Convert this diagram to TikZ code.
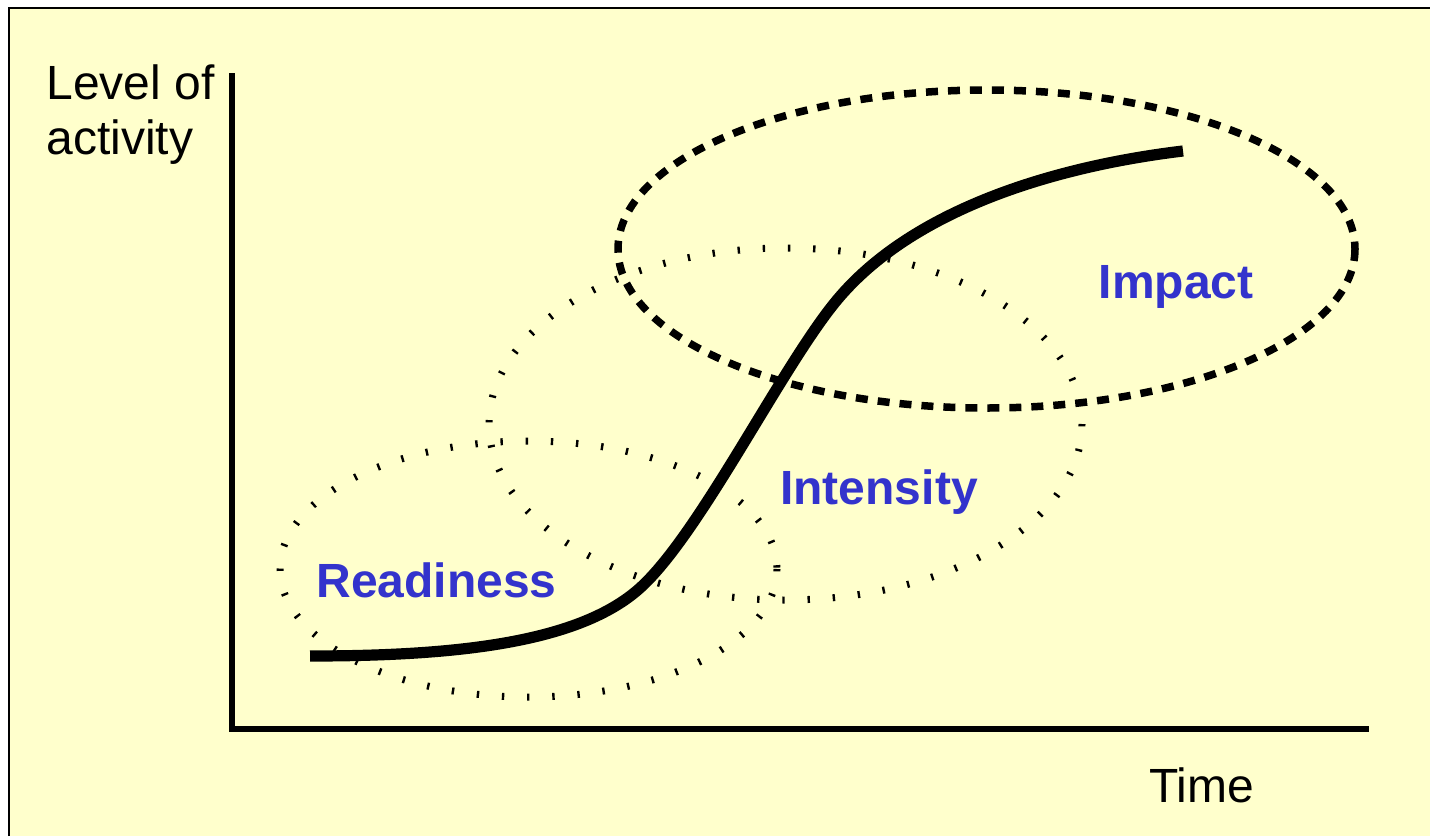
\documentclass[tikz,border=0pt]{standalone}
\usepackage{fontspec}
\setmainfont{Liberation Sans}
\definecolor{bgyellow}{HTML}{FFFFCC}
\definecolor{labelblue}{HTML}{3333CC}
\begin{document}
\begin{tikzpicture}[x=0.5pt,y=-0.5pt,
  axisline/.style={line width=3pt},
  scurve/.style={line width=5.6pt},
  dotring/.style={line width=3.5pt, dash pattern=on 1.2pt off 11.4pt},
  dashring/.style={line width=3.75pt, dash pattern=on 6pt off 5pt},
  phase/.style={text=labelblue, font=\fontsize{24}{28}\selectfont\bfseries, anchor=base, inner sep=0pt},
  plaintext/.style={font=\fontsize{24}{28}\selectfont, anchor=base west, inner sep=0pt}]
\useasboundingbox (0,0) rectangle (1430,836);
\fill[white] (0,0) rectangle (1430,836);
\fill[bgyellow] (9,8) rectangle (1430,836);
\draw[line width=1pt] (9,836) -- (9,8) -- (1430,8);
% ellipses
\draw[dotring] (528.5,569) ellipse [x radius=248.5, y radius=128];
\draw[dotring] (785.5,424) ellipse [x radius=296.5, y radius=176];
\draw[dashring] (986.5,249) ellipse [x radius=368.5, y radius=159];
% axes
\coordinate (origin) at (232,729);
\coordinate (ytop) at (232,73);
\coordinate (xend) at (1369,729);
\draw[axisline] (ytop) -- (232,731.5);
\draw[axisline] (229.5,729) -- (xend);
% s-curve
\coordinate (cstart) at (310,656);
\coordinate (cbend1) at (640,588);
\coordinate (cbend2) at (837,300);
\coordinate (cend) at (1183,151);
\draw[scurve] (cstart) .. controls (460,656) and (580,642) .. (cbend1)
  .. controls (700,534) and (782,366) .. (cbend2)
  .. controls (912,210) and (1053,166.6) .. (cend);
% labels
\node[phase] (readiness) at (436.5,597) {Readiness};
\node[phase] (intensity) at (879,504) {Intensity};
\node[phase] (impact) at (1176,298) {Impact};
\node[plaintext] (level) at (46,99) {Level of};
\node[plaintext] (activity) at (46,154) {activity};
\node[plaintext] (time) at (1149,802) {Time};
\end{tikzpicture}
\end{document}
